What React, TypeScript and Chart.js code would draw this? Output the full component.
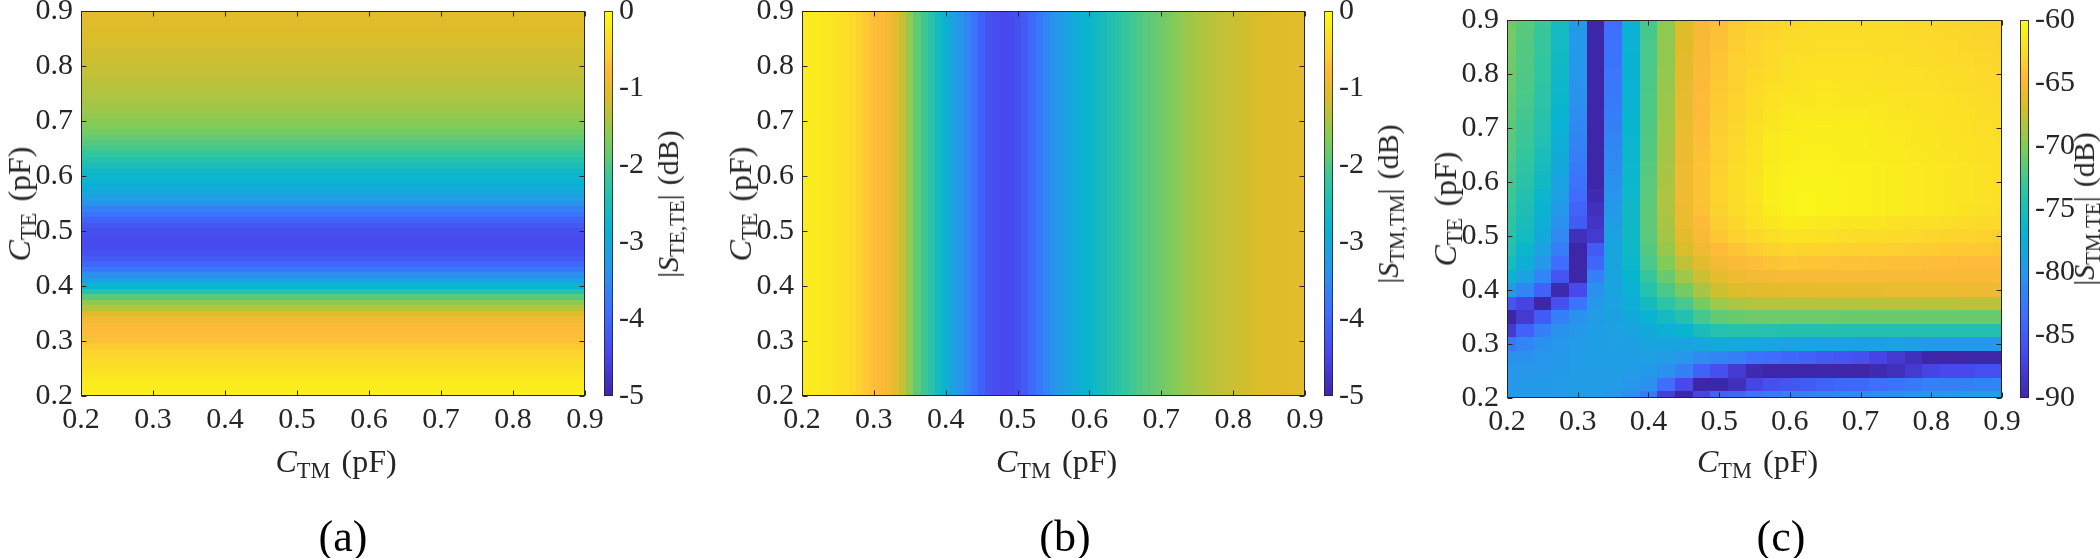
import React, { useEffect, useRef } from "react";
import { Chart, registerables } from "chart.js";

Chart.register(...registerables);

const FONT = "'Liberation Serif', 'Times New Roman', serif";
const INK = "#262626";

// ---------- axes ----------
const AXIS_MIN = 0.2;
const AXIS_MAX = 0.9;
const AXIS_TICKS = [0.2, 0.3, 0.4, 0.5, 0.6, 0.7, 0.8, 0.9];

// ---------- (a) |S_TE,TE| vs C_TE ----------
const C_TE_A = [
  0.2, 0.21, 0.22, 0.23, 0.24, 0.25, 0.26, 0.27, 0.28, 0.29, 0.3, 0.31, 0.32, 0.33, 0.34, 0.35, 0.36, 0.37,
  0.38, 0.39, 0.4, 0.41, 0.42, 0.43, 0.44, 0.45, 0.46, 0.47, 0.48, 0.49, 0.5, 0.51, 0.52, 0.53, 0.54, 0.55,
  0.56, 0.57, 0.58, 0.59, 0.6, 0.61, 0.62, 0.63, 0.64, 0.65, 0.66, 0.67, 0.68, 0.69, 0.7, 0.71, 0.72, 0.73,
  0.74, 0.75, 0.76, 0.77, 0.78, 0.79, 0.8, 0.81, 0.82, 0.83, 0.84, 0.85, 0.86, 0.87, 0.88, 0.89, 0.9,
];
const S_TE_TE = [
  -0.12, -0.15, -0.19, -0.23, -0.28, -0.33, -0.38, -0.44, -0.5, -0.6, -0.67, -0.71, -0.75, -0.8, -0.9, -1.08,
  -1.32, -1.6, -1.95, -2.35, -2.75, -3.1, -3.45, -3.75, -4.0, -4.18, -4.3, -4.38, -4.4, -4.38, -4.32, -4.22,
  -4.05, -3.85, -3.62, -3.4, -3.2, -3.03, -2.9, -2.8, -2.72, -2.62, -2.5, -2.36, -2.22, -2.09, -1.97, -1.86,
  -1.76, -1.68, -1.61, -1.55, -1.5, -1.46, -1.42, -1.38, -1.35, -1.32, -1.29, -1.26, -1.24, -1.21, -1.19,
  -1.17, -1.15, -1.13, -1.11, -1.09, -1.07, -1.06, -1.05,
];

// ---------- (b) |S_TM,TM| vs C_TM ----------
const C_TM_B = [
  0.2, 0.21, 0.22, 0.23, 0.24, 0.25, 0.26, 0.27, 0.28, 0.29, 0.3, 0.31, 0.32, 0.33, 0.34, 0.35, 0.36, 0.37,
  0.38, 0.39, 0.4, 0.41, 0.42, 0.43, 0.44, 0.45, 0.46, 0.47, 0.48, 0.49, 0.5, 0.51, 0.52, 0.53, 0.54, 0.55,
  0.56, 0.57, 0.58, 0.59, 0.6, 0.61, 0.62, 0.63, 0.64, 0.65, 0.66, 0.67, 0.68, 0.69, 0.7, 0.71, 0.72, 0.73,
  0.74, 0.75, 0.76, 0.77, 0.78, 0.79, 0.8, 0.81, 0.82, 0.83, 0.84, 0.85, 0.86, 0.87, 0.88, 0.89, 0.9,
];
const S_TM_TM = [
  -0.18, -0.2, -0.22, -0.24, -0.27, -0.3, -0.35, -0.42, -0.52, -0.62, -0.71, -0.76, -0.85, -1.02, -1.25,
  -1.55, -1.9, -2.15, -2.32, -2.6, -2.85, -3.1, -3.35, -3.58, -3.85, -4.08, -4.28, -4.38, -4.42, -4.4, -4.32,
  -4.18, -3.98, -3.75, -3.55, -3.38, -3.24, -3.1, -2.97, -2.85, -2.75, -2.64, -2.53, -2.42, -2.31, -2.21,
  -2.11, -2.02, -1.94, -1.87, -1.8, -1.72, -1.64, -1.56, -1.49, -1.43, -1.38, -1.33, -1.29, -1.26, -1.23,
  -1.2, -1.17, -1.14, -1.12, -1.1, -1.08, -1.07, -1.06, -1.05, -1.05,
];

// ---------- (c) |S_TM,TE| over (C_TM, C_TE) ----------
const C_TM_C = [
  0.2, 0.225, 0.25, 0.275, 0.3, 0.325, 0.35, 0.375, 0.4, 0.425, 0.45, 0.475, 0.5, 0.525, 0.55, 0.575, 0.6,
  0.625, 0.65, 0.675, 0.7, 0.725, 0.75, 0.775, 0.8, 0.825, 0.85, 0.875, 0.9,
];
// rows from top (C_TE = 0.9) to bottom (C_TE = 0.2)
const C_TE_C = [
  0.9, 0.875, 0.85, 0.825, 0.8, 0.775, 0.75, 0.725, 0.7, 0.675, 0.65, 0.625, 0.6, 0.575, 0.55, 0.525, 0.5,
  0.475, 0.45, 0.425, 0.4, 0.375, 0.35, 0.325, 0.3, 0.275, 0.25, 0.225, 0.2,
];
const S_TM_TE = [
  [-70.5,-71.7,-73,-75.5,-79.5,-90,-83.5,-77,-72.5,-69.5,-66.5,-65,-64.2,-63.6,-63.2,-62.9,-62.7,-62.5,-62.4,-62.4,-62.4,-62.5,-62.5,-62.6,-62.7,-62.8,-62.9,-63,-63.1],
  [-70.6,-71.8,-73.1,-75.6,-79.6,-90,-83.3,-77,-72.5,-69.5,-66.5,-65,-64.1,-63.5,-63.1,-62.8,-62.6,-62.4,-62.3,-62.3,-62.3,-62.4,-62.4,-62.5,-62.6,-62.7,-62.8,-62.9,-63],
  [-70.7,-71.9,-73.2,-75.7,-79.7,-90,-83.1,-77,-72.4,-69.4,-66.4,-64.9,-64,-63.4,-63,-62.6,-62.4,-62.3,-62.2,-62.2,-62.2,-62.3,-62.3,-62.4,-62.5,-62.6,-62.7,-62.8,-62.9],
  [-70.8,-72,-73.3,-75.8,-79.8,-90,-82.9,-76.9,-72.4,-69.4,-66.3,-64.8,-63.9,-63.3,-62.9,-62.5,-62.2,-62.1,-62,-62,-62,-62.1,-62.2,-62.3,-62.4,-62.5,-62.6,-62.7,-62.8],
  [-70.9,-72.1,-73.4,-76,-80,-90,-82.7,-76.9,-72.3,-69.3,-66.2,-64.7,-63.8,-63.2,-62.7,-62.3,-62,-61.9,-61.8,-61.9,-61.9,-62,-62,-62.1,-62.2,-62.3,-62.4,-62.6,-62.7],
  [-71,-72.2,-73.6,-76.2,-80.2,-90,-82.5,-76.8,-72.3,-69.2,-66.1,-64.6,-63.7,-63.1,-62.6,-62.1,-61.8,-61.7,-61.6,-61.7,-61.7,-61.8,-61.9,-62,-62.1,-62.2,-62.3,-62.5,-62.6],
  [-71.2,-72.4,-73.8,-76.4,-80.5,-90,-82.3,-76.8,-72.2,-69.1,-66,-64.5,-63.6,-63,-62.4,-61.9,-61.6,-61.5,-61.4,-61.5,-61.5,-61.6,-61.7,-61.8,-61.9,-62.1,-62.2,-62.4,-62.5],
  [-71.4,-72.6,-74,-76.7,-80.8,-90,-82.1,-76.7,-72.2,-69,-65.9,-64.4,-63.5,-62.9,-62.3,-61.7,-61.4,-61.3,-61.2,-61.3,-61.3,-61.4,-61.5,-61.7,-61.8,-62,-62.1,-62.3,-62.4],
  [-71.6,-72.8,-74.3,-77,-81.2,-90,-81.8,-76.6,-72.1,-68.9,-65.8,-64.3,-63.4,-62.7,-62.1,-61.5,-61.2,-61.1,-61,-61.1,-61.1,-61.3,-61.4,-61.6,-61.7,-61.9,-62,-62.2,-62.3],
  [-71.8,-73,-74.6,-77.3,-81.6,-90,-81.5,-76.5,-72,-68.8,-65.7,-64.2,-63.3,-62.6,-62,-61.3,-61,-60.9,-60.9,-61,-61,-61.2,-61.3,-61.5,-61.6,-61.8,-61.9,-62.1,-62.2],
  [-72,-73.3,-75,-77.7,-82,-90,-81.2,-76.4,-71.9,-68.7,-65.6,-64.1,-63.2,-62.5,-61.9,-61.2,-60.9,-60.8,-60.8,-60.9,-60.9,-61.1,-61.2,-61.4,-61.5,-61.7,-61.8,-62,-62.1],
  [-72.3,-73.6,-75.4,-78.1,-82.5,-90,-80.9,-76.3,-71.8,-68.6,-65.5,-64,-63.1,-62.4,-61.8,-61.1,-60.8,-60.7,-60.7,-60.8,-60.8,-61,-61.1,-61.3,-61.4,-61.6,-61.7,-61.9,-62.1],
  [-72.6,-74,-75.8,-78.6,-83,-90,-80.5,-76.2,-71.7,-68.5,-65.5,-64,-63,-62.3,-61.7,-61,-60.7,-60.6,-60.6,-60.7,-60.8,-61,-61.1,-61.3,-61.4,-61.6,-61.7,-61.9,-62.1],
  [-72.9,-74.4,-76.3,-79.1,-83.6,-89.5,-80.1,-76.1,-71.6,-68.4,-65.5,-64,-63,-62.3,-61.7,-61,-60.6,-60.5,-60.6,-60.7,-60.8,-61,-61.1,-61.3,-61.4,-61.6,-61.7,-61.9,-62.1],
  [-73.2,-74.8,-76.8,-79.7,-84.3,-89,-79.7,-76,-71.5,-68.4,-65.6,-64.1,-63.1,-62.4,-61.8,-61.1,-60.7,-60.5,-60.6,-60.7,-60.8,-61,-61.1,-61.3,-61.4,-61.6,-61.8,-62,-62.2],
  [-73.6,-75.2,-77.3,-80.4,-85,-88.5,-79.2,-76,-71.5,-68.5,-65.8,-64.4,-63.4,-62.7,-62.1,-61.5,-61.1,-61.2,-61.4,-61.5,-61.6,-61.7,-61.9,-62,-62.1,-62.2,-62.4,-62.5,-62.6],
  [-74,-75.7,-78,-81.2,-89,-88,-78.8,-76,-71.6,-68.7,-66.2,-64.9,-63.8,-63.2,-62.7,-62.2,-61.8,-61.9,-62,-62.2,-62.3,-62.4,-62.5,-62.6,-62.8,-62.9,-63,-63.1,-63.2],
  [-74.6,-76.4,-78.8,-82.2,-90,-85,-78.5,-76.1,-71.9,-69.2,-66.8,-65.5,-64.4,-63.9,-63.5,-63.1,-62.8,-62.9,-63,-63.1,-63.2,-63.2,-63.3,-63.4,-63.5,-63.6,-63.6,-63.7,-63.8],
  [-75.4,-77.3,-79.8,-83.5,-90,-84,-78.5,-76.3,-72.4,-70,-67.7,-66.3,-65.1,-64.6,-64.3,-64,-63.8,-63.9,-63.9,-64,-64,-64.1,-64.2,-64.2,-64.3,-64.3,-64.4,-64.5,-64.5],
  [-76.8,-78.8,-81.5,-85.5,-90,-82,-78.5,-76.6,-73.2,-71,-68.9,-67.3,-66,-65.5,-65.2,-65,-64.9,-64.9,-64.9,-64.9,-64.9,-64.9,-64.9,-64.9,-64.9,-64.9,-64.9,-64.9,-64.9],
  [-79.5,-81.5,-84.5,-89.5,-86.5,-80.5,-78.5,-77,-74.3,-72.3,-70.5,-68.6,-67.2,-66.6,-66.3,-66.2,-66.1,-66.1,-66,-66,-65.9,-65.9,-65.8,-65.8,-65.7,-65.7,-65.6,-65.6,-65.5],
  [-85.5,-87,-90,-86,-83,-79.8,-78.7,-77.5,-75.6,-73.8,-72.4,-70.3,-68.9,-68.4,-68.1,-68,-68,-68,-68,-68,-68,-67.9,-67.9,-67.9,-67.9,-67.9,-67.8,-67.8,-67.8],
  [-90,-88,-85,-82,-80.5,-79.3,-78.9,-78,-76.8,-75.6,-74.5,-72.5,-71.3,-71,-70.8,-70.8,-70.8,-70.8,-70.8,-70.9,-70.9,-70.9,-70.9,-70.9,-71,-71,-71,-71,-71],
  [-88,-84.5,-82,-80.5,-79.8,-79.2,-79,-78.5,-77.8,-77.2,-76.6,-75.2,-74.3,-74.2,-74.2,-74.3,-74.4,-74.4,-74.4,-74.4,-74.4,-74.5,-74.5,-74.5,-74.5,-74.5,-74.5,-74.5,-74.5],
  [-82.5,-81.5,-80.5,-80,-79.5,-79.2,-79.1,-78.9,-78.5,-78.5,-78.5,-78.3,-77.8,-77.8,-78,-78.3,-78.5,-78.6,-78.7,-78.8,-78.9,-78.9,-79,-79.2,-79.6,-79.8,-79.9,-80,-80],
  [-80.5,-80.5,-80,-79.8,-79.4,-79.2,-79.2,-79.2,-79,-79.4,-80,-81,-81.5,-82,-83,-83.5,-84,-84.5,-85,-85.5,-86,-87,-88,-89,-90,-90,-90,-90,-90],
  [-80,-80,-79.8,-79.6,-79.4,-79.3,-79.3,-79.5,-79.6,-80.5,-81.8,-84.5,-86,-88,-89.5,-90,-90,-90,-90,-90,-90,-89.5,-89,-88,-87,-86.5,-86.5,-86,-86],
  [-79.7,-79.7,-79.6,-79.5,-79.3,-79.3,-79.5,-80,-80.5,-83.5,-86.5,-90,-90,-89,-87,-86,-85.5,-85,-84.5,-84,-84,-83.5,-83,-82.5,-82,-82,-81.8,-81.6,-81.5],
  [-79.5,-79.5,-79.5,-79.4,-79.3,-79.3,-79.8,-80.8,-82.5,-87.5,-90,-87,-84.5,-84,-83,-82.5,-82,-81.8,-81.5,-81.2,-81,-80.8,-80.5,-80.2,-80,-79.7,-79.4,-79.1,-78.8],
];

// ---------- colour bars ----------
const CB_RANGE_SELF = [-5, 0];
const CB_TICKS_SELF = [-5, -4, -3, -2, -1, 0];
const CB_RANGE_CROSS = [-90, -60];
const CB_TICKS_CROSS = [-90, -85, -80, -75, -70, -65, -60];

// parula colormap stops [t, r, g, b]
const PARULA = [
  [0, 0.2422, 0.1504, 0.6603],
  [1 / 9, 0.2803, 0.2782, 0.9221],
  [2 / 9, 0.244, 0.4358, 0.9988],
  [3 / 9, 0.154, 0.5902, 0.9218],
  [4 / 9, 0.0297, 0.7082, 0.8163],
  [5 / 9, 0.1938, 0.7758, 0.6251],
  [6 / 9, 0.5044, 0.7993, 0.348],
  [7 / 9, 0.8634, 0.7406, 0.1596],
  [0.85, 0.9956, 0.7276, 0.2263],
  [8 / 9, 0.9892, 0.8136, 0.1885],
  [1, 0.9769, 0.9839, 0.0805],
];

function parulaCss(t: number): string {
  const u = Math.max(0, Math.min(1, t));
  for (let i = 1; i < PARULA.length; i++) {
    const s1 = PARULA[i];
    if (u <= s1[0]) {
      const s0 = PARULA[i - 1];
      const f = (u - s0[0]) / (s1[0] - s0[0]);
      const r = s0[1] + (s1[1] - s0[1]) * f;
      const g = s0[2] + (s1[2] - s0[2]) * f;
      const b = s0[3] + (s1[3] - s0[3]) * f;
      return `rgb(${Math.round(r * 255)},${Math.round(g * 255)},${Math.round(b * 255)})`;
    }
  }
  return "rgb(249,251,21)";
}

type Spec = {
  key: string;
  plot: { l: number; r: number; t: number; b: number };
  cb: { l: number; r: number };
  range: number[];
  cbTicks: number[];
  mode: "rows" | "cols" | "grid";
  step: number;
  data: { x: number; y: number; v: number }[];
  cbSub: string;
  caption: string;
  captionX: number;
};

const MID = (AXIS_MIN + AXIS_MAX) / 2;

const SPECS: Spec[] = [
  {
    key: "a",
    plot: { l: 81, r: 585, t: 11, b: 396 },
    cb: { l: 604, r: 613 },
    range: CB_RANGE_SELF,
    cbTicks: CB_TICKS_SELF,
    mode: "rows",
    step: 0.01,
    data: C_TE_A.map((c, i) => ({ x: MID, y: c, v: S_TE_TE[i] })),
    cbSub: "TE,TE",
    caption: "(a)",
    captionX: 343,
  },
  {
    key: "b",
    plot: { l: 802, r: 1305, t: 11, b: 396 },
    cb: { l: 1324, r: 1333 },
    range: CB_RANGE_SELF,
    cbTicks: CB_TICKS_SELF,
    mode: "cols",
    step: 0.01,
    data: C_TM_B.map((c, i) => ({ x: c, y: MID, v: S_TM_TM[i] })),
    cbSub: "TM,TM",
    caption: "(b)",
    captionX: 1065,
  },
  {
    key: "c",
    plot: { l: 1507, r: 2002, t: 20, b: 398 },
    cb: { l: 2020, r: 2029 },
    range: CB_RANGE_CROSS,
    cbTicks: CB_TICKS_CROSS,
    mode: "grid",
    step: 0.025,
    data: S_TM_TE.flatMap((row, j) => row.map((v, i) => ({ x: C_TM_C[i], y: C_TE_C[j], v }))),
    cbSub: "TM,TE",
    caption: "(c)",
    captionX: 1781,
  },
];

const YAXIS_W = 81;
const PAD_T = 30;
const PAD_R = 40;
const XAXIS_H = 50;
const PAD_B = 10;
const CB_PAD_L = 4;
const CB_AXIS_W = 60;

function heatGeom(s: Spec) {
  return {
    left: s.plot.l - YAXIS_W,
    top: s.plot.t - PAD_T,
    width: YAXIS_W + (s.plot.r - s.plot.l) + PAD_R,
    height: PAD_T + (s.plot.b - s.plot.t) + XAXIS_H + PAD_B,
  };
}
function cbGeom(s: Spec) {
  return {
    left: s.cb.l - CB_PAD_L,
    top: s.plot.t - PAD_T,
    width: CB_PAD_L + (s.cb.r - s.cb.l) + CB_AXIS_W,
    height: PAD_T + (s.plot.b - s.plot.t) + PAD_T,
  };
}

function makeHeatPlugin(s: Spec) {
  return {
    id: "heat_" + s.key,
    beforeDatasetsDraw(chart: any) {
      const { ctx, chartArea: a, scales } = chart;
      const xs = scales.x;
      const ys = scales.y;
      const [mn, mx] = s.range;
      ctx.save();
      ctx.beginPath();
      ctx.rect(a.left, a.top, a.right - a.left, a.bottom - a.top);
      ctx.clip();
      for (const p of chart.data.datasets[0].data) {
        let x0: number, x1: number, y0: number, y1: number;
        if (s.mode === "rows") {
          x0 = a.left;
          x1 = a.right;
        } else {
          x0 = xs.getPixelForValue(p.x - s.step / 2);
          x1 = xs.getPixelForValue(p.x + s.step / 2);
        }
        if (s.mode === "cols") {
          y0 = a.top;
          y1 = a.bottom;
        } else {
          y0 = ys.getPixelForValue(p.y + s.step / 2);
          y1 = ys.getPixelForValue(p.y - s.step / 2);
        }
        const L = Math.round(x0), R = Math.round(x1), T = Math.round(y0), B = Math.round(y1);
        ctx.fillStyle = parulaCss((p.v - mn) / (mx - mn));
        ctx.fillRect(L, T, R - L, B - T);
      }
      ctx.restore();
    },
  };
}

function makeFramePlugin(id: string, color: string, tickLen: number) {
  return {
    id,
    afterDraw(chart: any) {
      const { ctx, chartArea: a, scales } = chart;
      const L = Math.round(a.left) + 0.5;
      const R = Math.round(a.right) - 0.5;
      const T = Math.round(a.top) + 0.5;
      const B = Math.round(a.bottom) - 0.5;
      ctx.save();
      ctx.strokeStyle = color;
      ctx.lineWidth = 1;
      if (tickLen > 0) {
        ctx.beginPath();
        for (const t of scales.x.ticks) {
          const px = Math.round(scales.x.getPixelForValue(t.value)) + 0.5;
          ctx.moveTo(px, B);
          ctx.lineTo(px, B - tickLen);
          ctx.moveTo(px, T);
          ctx.lineTo(px, T + tickLen);
        }
        for (const t of scales.y.ticks) {
          const py = Math.round(scales.y.getPixelForValue(t.value)) + 0.5;
          ctx.moveTo(L, py);
          ctx.lineTo(L + tickLen, py);
          ctx.moveTo(R, py);
          ctx.lineTo(R - tickLen, py);
        }
        ctx.stroke();
      }
      ctx.strokeRect(L, T, R - L, B - T);
      ctx.restore();
    },
  };
}

const tickFont = { family: FONT, size: 30, lineHeight: 1.2 };

function buildHeat(canvas: HTMLCanvasElement, s: Spec) {
  return new Chart(canvas, {
    type: "scatter",
    data: {
      datasets: [
        {
          data: s.data as any,
          pointRadius: 0,
          pointHoverRadius: 0,
          showLine: false,
        },
      ],
    },
    options: {
      responsive: false,
      animation: false,
      events: [],
      layout: { padding: { left: 0, top: PAD_T, right: PAD_R, bottom: PAD_B } },
      plugins: { legend: { display: false }, tooltip: { enabled: false } },
      scales: {
        x: {
          type: "linear",
          min: AXIS_MIN,
          max: AXIS_MAX,
          afterBuildTicks: (sc: any) => {
            sc.ticks = AXIS_TICKS.map((v) => ({ value: v }));
          },
          afterFit: (sc: any) => {
            sc.height = XAXIS_H;
          },
          grid: { display: false, drawTicks: false },
          border: { display: false },
          ticks: {
            font: tickFont,
            color: INK,
            padding: 6,
            maxRotation: 0,
            autoSkip: false,
            callback: (v: any) => Number(v).toFixed(1),
          },
        },
        y: {
          type: "linear",
          min: AXIS_MIN,
          max: AXIS_MAX,
          afterBuildTicks: (sc: any) => {
            sc.ticks = AXIS_TICKS.map((v) => ({ value: v }));
          },
          afterFit: (sc: any) => {
            sc.width = YAXIS_W;
          },
          grid: { display: false, drawTicks: false },
          border: { display: false },
          ticks: {
            font: tickFont,
            color: INK,
            padding: 8,
            autoSkip: false,
            callback: (v: any) => Number(v).toFixed(1),
          },
        },
      },
    } as any,
    plugins: [makeHeatPlugin(s), makeFramePlugin("frame_" + s.key, INK, 5)],
  });
}

function buildColorbar(canvas: HTMLCanvasElement, s: Spec) {
  const [mn, mx] = s.range;
  return new Chart(canvas, {
    type: "bar",
    data: {
      labels: [""],
      datasets: [
        {
          data: [[mn, mx]] as any,
          barPercentage: 1,
          categoryPercentage: 1,
          borderWidth: 0,
          backgroundColor: (c: any) => {
            const ch = c.chart;
            const a = ch.chartArea;
            if (!a) return "transparent";
            const g = ch.ctx.createLinearGradient(0, a.bottom, 0, a.top);
            for (let i = 0; i <= 64; i++) g.addColorStop(i / 64, parulaCss(i / 64));
            return g;
          },
        },
      ],
    },
    options: {
      responsive: false,
      animation: false,
      events: [],
      layout: { padding: { left: CB_PAD_L, top: PAD_T, right: 0, bottom: PAD_T } },
      plugins: { legend: { display: false }, tooltip: { enabled: false } },
      scales: {
        x: { display: false },
        y: {
          type: "linear",
          position: "right",
          min: mn,
          max: mx,
          afterBuildTicks: (sc: any) => {
            sc.ticks = s.cbTicks.map((v) => ({ value: v }));
          },
          afterFit: (sc: any) => {
            sc.width = CB_AXIS_W;
          },
          grid: { display: false, drawTicks: false },
          border: { display: false },
          ticks: {
            font: tickFont,
            color: INK,
            padding: 6,
            autoSkip: false,
            callback: (v: any) => String(v),
          },
        },
      },
    } as any,
    plugins: [makeFramePlugin("cbframe_" + s.key, "rgba(38,38,38,0.85)", 0)],
  });
}

const subStyle: React.CSSProperties = { fontSize: "0.7em", position: "relative", top: "0.28em" };

function Label(props: {
  cx: number;
  cy: number;
  size: number;
  rotate?: boolean;
  children: React.ReactNode;
}) {
  return (
    <div
      style={{
        position: "absolute",
        left: props.cx,
        top: props.cy,
        transform: `translate(-50%, -50%)${props.rotate ? " rotate(-90deg)" : ""}`,
        fontFamily: FONT,
        fontSize: props.size,
        lineHeight: 1,
        color: INK,
        whiteSpace: "nowrap",
      }}
    >
      {props.children}
    </div>
  );
}

export default function App() {
  const heatRefs = useRef<(HTMLCanvasElement | null)[]>([]);
  const cbRefs = useRef<(HTMLCanvasElement | null)[]>([]);

  useEffect(() => {
    document.body.style.margin = "0";
    const charts: Chart[] = [];
    SPECS.forEach((s, i) => {
      const h = heatRefs.current[i];
      const c = cbRefs.current[i];
      if (h) charts.push(buildHeat(h, s));
      if (c) charts.push(buildColorbar(c, s));
    });
    return () => charts.forEach((c) => c.destroy());
  }, []);

  return (
    <div
      style={{
        position: "fixed",
        left: 0,
        top: 0,
        width: 2100,
        height: 558,
        background: "#ffffff",
        overflow: "hidden",
      }}
    >
      {SPECS.map((s, i) => {
        const hg = heatGeom(s);
        const cg = cbGeom(s);
        const midX = (s.plot.l + s.plot.r) / 2;
        const midY = (s.plot.t + s.plot.b) / 2;
        return (
          <React.Fragment key={s.key}>
            <canvas
              ref={(el) => {
                heatRefs.current[i] = el;
              }}
              width={hg.width}
              height={hg.height}
              style={{ position: "absolute", left: hg.left, top: hg.top, width: hg.width, height: hg.height }}
            />
            <canvas
              ref={(el) => {
                cbRefs.current[i] = el;
              }}
              width={cg.width}
              height={cg.height}
              style={{ position: "absolute", left: cg.left, top: cg.top, width: cg.width, height: cg.height }}
            />
            <Label cx={midX + 3} cy={461} size={32}>
              <i>C</i>
              <span style={subStyle}>TM</span>
              <span style={{ marginLeft: "0.35em" }}>(pF)</span>
            </Label>
            <Label cx={s.plot.l - 62} cy={midY} size={32} rotate>
              <i>C</i>
              <span style={subStyle}>TE</span>
              <span style={{ marginLeft: "0.35em" }}>(pF)</span>
            </Label>
            <Label cx={s.cb.r + 55} cy={midY} size={30} rotate>
              |<i>S</i>
              <span style={subStyle}>{s.cbSub}</span>|<span style={{ marginLeft: "0.3em" }}>(dB)</span>
            </Label>
            <Label cx={s.captionX} cy={537} size={44}>
              <span style={{ color: "#000" }}>{s.caption}</span>
            </Label>
          </React.Fragment>
        );
      })}
    </div>
  );
}
